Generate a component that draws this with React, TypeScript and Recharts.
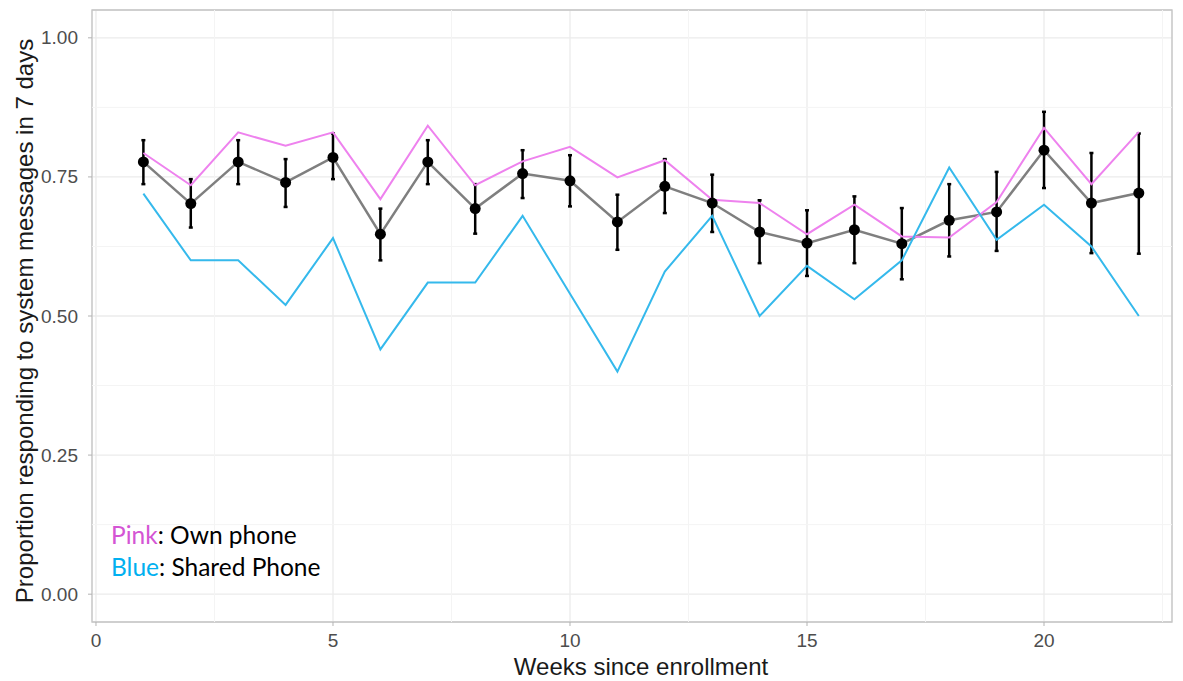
import {
    LineChart,
    Line,
    XAxis,
    YAxis,
    CartesianGrid,
    ErrorBar,
    ReferenceLine,
    ReferenceArea,
    Label,
} from "recharts";

const weeks = [1, 2, 3, 4, 5, 6, 7, 8, 9, 10, 11, 12, 13, 14, 15, 16, 17, 18, 19, 20, 21, 22];
const meanProp = [0.777, 0.702, 0.777, 0.740, 0.785, 0.647, 0.777, 0.693, 0.756, 0.743, 0.669, 0.733, 0.703, 0.651, 0.631, 0.655, 0.630, 0.672, 0.687, 0.798, 0.703, 0.721];
const ciLow = [0.737, 0.659, 0.737, 0.696, 0.746, 0.600, 0.737, 0.648, 0.712, 0.697, 0.619, 0.685, 0.651, 0.595, 0.572, 0.595, 0.566, 0.607, 0.617, 0.730, 0.613, 0.612];
const ciHigh = [0.816, 0.746, 0.816, 0.782, 0.828, 0.693, 0.816, 0.737, 0.798, 0.789, 0.718, 0.782, 0.754, 0.708, 0.690, 0.715, 0.694, 0.737, 0.759, 0.867, 0.793, 0.828];
const ownPhone = [0.793, 0.735, 0.830, 0.806, 0.830, 0.710, 0.842, 0.735, 0.778, 0.804, 0.749, 0.780, 0.709, 0.703, 0.647, 0.700, 0.643, 0.641, 0.705, 0.838, 0.737, 0.831];
const sharedPhone = [0.72, 0.60, 0.60, 0.52, 0.64, 0.44, 0.56, 0.56, 0.68, 0.54, 0.40, 0.58, 0.68, 0.50, 0.59, 0.53, 0.60, 0.767, 0.637, 0.70, 0.625, 0.50];

const xTicks = [0, 5, 10, 15, 20];
const yTicks = [0, 0.25, 0.5, 0.75, 1];
const xMinor = [2.5, 7.5, 12.5, 17.5, 22.5];
const yMinor = [0.125, 0.375, 0.625, 0.875];
const xDomain = [-0.084, 22.7];
const yDomain = [-0.05, 1.05];

const rows = weeks.map((w, i) => ({
    week: w,
    mean: meanProp[i],
    err: [meanProp[i] - ciLow[i], ciHigh[i] - meanProp[i]],
    own: ownPhone[i],
    shared: sharedPhone[i],
}));

const sans = "'Liberation Sans', Arial, sans-serif";

// ggplot-ish tick labels, drawn where the axis puts them
const XTick = ({ x, y, payload }: any) => (
    <text x={x} y={y + 12} textAnchor="middle" dominantBaseline="central" fill="#4d4d4d" fontSize={19} fontFamily={sans}>
        {payload.value}
    </text>
);

const YTick = ({ x, y, payload }: any) => (
    <text x={x - 8} y={y} textAnchor="end" dominantBaseline="central" fill="#4d4d4d" fontSize={19} fontFamily={sans}>
        {Number(payload.value).toFixed(2)}
    </text>
);

export default function App() {
    return (
        <div style={{ position: "absolute", left: 0, top: 0, width: 1183, height: 681, background: "#fff" }}>
            <LineChart width={1183} height={681} data={rows} margin={{ top: 10, right: 11, bottom: 0, left: 0 }}>
                <CartesianGrid stroke="#ebebeb" strokeWidth={1.3} />
                {xMinor.map((v) => (
                    <ReferenceLine key={"x" + v} x={v} stroke="#f4f4f4" strokeWidth={1} />
                ))}
                {yMinor.map((v) => (
                    <ReferenceLine key={"y" + v} y={v} stroke="#f4f4f4" strokeWidth={1} />
                ))}
                <ReferenceArea
                    x1={xDomain[0]}
                    x2={xDomain[1]}
                    y1={yDomain[0]}
                    y2={yDomain[1]}
                    fill="none"
                    fillOpacity={0}
                    stroke="#c4c4c4"
                    strokeWidth={1.3}
                />
                <XAxis
                    dataKey="week"
                    type="number"
                    domain={xDomain}
                    ticks={xTicks}
                    allowDataOverflow
                    height={59}
                    tick={<XTick />}
                    tickLine={{ stroke: "#b3b3b3" }}
                    tickSize={4}
                    axisLine={false}
                >
                    <Label
                        value="Weeks since enrollment"
                        position="insideBottom"
                        offset={6}
                        dx={9}
                        style={{ fill: "#1a1a1a", fontSize: 24, fontFamily: sans }}
                    />
                </XAxis>
                <YAxis
                    type="number"
                    domain={yDomain}
                    ticks={yTicks}
                    allowDataOverflow
                    width={92}
                    tick={<YTick />}
                    tickLine={{ stroke: "#b3b3b3" }}
                    tickSize={4}
                    axisLine={false}
                >
                    <Label
                        content={({ viewBox }: any) => (
                            <text
                                x={33}
                                y={viewBox.y + viewBox.height / 2 + 5}
                                transform={`rotate(-90, 33, ${viewBox.y + viewBox.height / 2 + 5})`}
                                textAnchor="middle"
                                style={{ fill: "#1a1a1a", fontSize: 24, fontFamily: sans }}
                            >
                                Proportion responding to system messages in 7 days
                            </text>
                        )}
                    />
                </YAxis>
                <Line
                    dataKey="mean"
                    stroke="#7f7f7f"
                    strokeWidth={2.5}
                    dot={{ r: 5.5, fill: "#000", stroke: "none" }}
                    isAnimationActive={false}
                >
                    <ErrorBar dataKey="err" width={2} stroke="#000" strokeWidth={2.5} direction="y" />
                </Line>
                <Line dataKey="own" stroke="#ee82ee" strokeWidth={2} dot={false} isAnimationActive={false} />
                <Line dataKey="shared" stroke="#35b9ec" strokeWidth={2} dot={false} isAnimationActive={false} />
            </LineChart>
            <div
                style={{
                    position: "absolute",
                    left: 111,
                    top: 519,
                    fontFamily: "Lato, 'Open Sans', sans-serif",
                    fontSize: 24.5,
                    lineHeight: "32px",
                    color: "#000",
                }}
            >
                <div>
                    <span style={{ color: "#d455d4" }}>Pink</span>: Own phone
                </div>
                <div>
                    <span style={{ color: "#00b0f0" }}>Blue</span>: Shared Phone
                </div>
            </div>
        </div>
    );
}
